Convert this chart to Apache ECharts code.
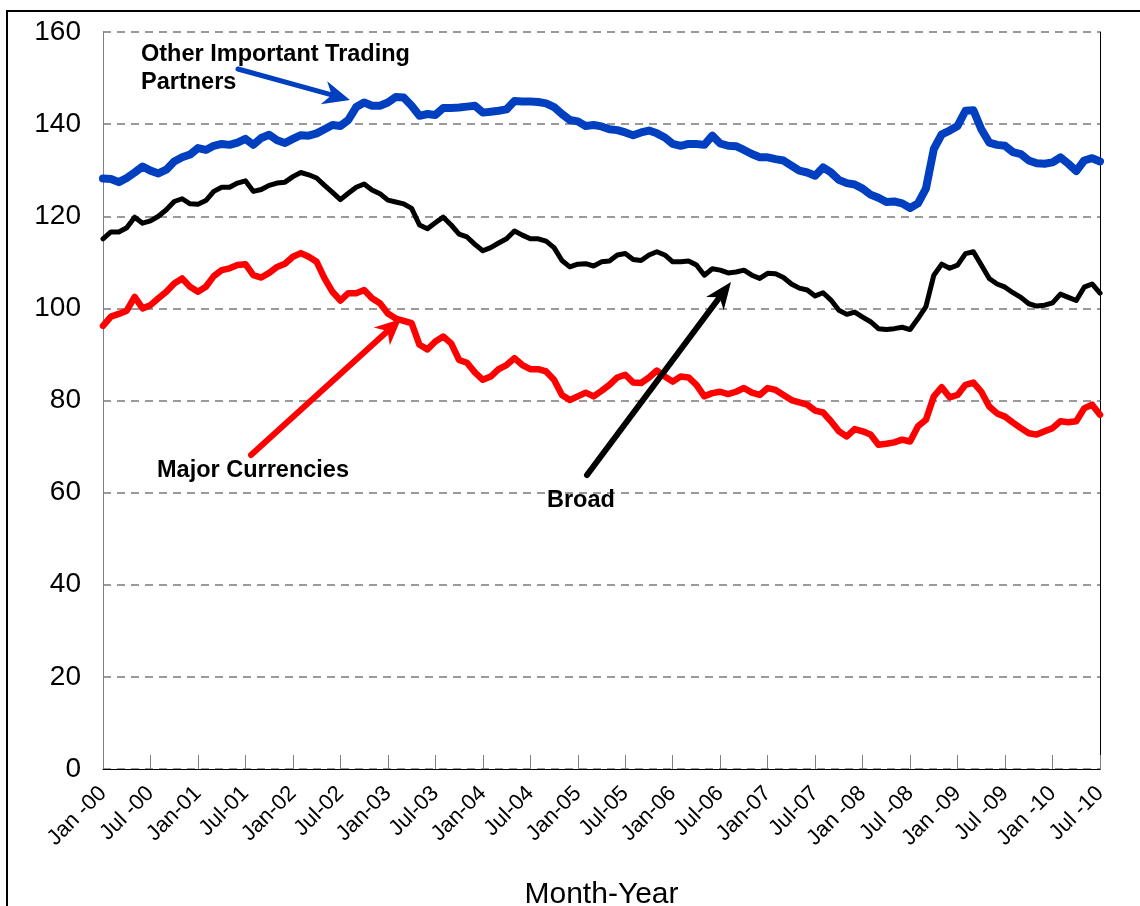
<!DOCTYPE html>
<html>
<head>
<meta charset="utf-8">
<script src="https://cdn.jsdelivr.net/npm/echarts@6/dist/echarts.min.js"></script>
<style>
html,body{margin:0;padding:0;background:#fff;overflow:hidden;}
#chart{width:1140px;height:906px;}
</style>
</head>
<body>
<div id="chart"></div>
<script>
// Tick labels shown every 6 months
const tickLabels = ['Jan -00','Jul -00','Jan-01','Jul-01','Jan-02','Jul-02','Jan-03','Jul-03','Jan-04','Jul-04','Jan-05','Jul-05','Jan-06','Jul-06','Jan-07','Jul-07','Jan -08','Jul -08','Jan -09','Jul -09','Jan -10','Jul -10'];
const monthNames = ['Jan','Feb','Mar','Apr','May','Jun','Jul','Aug','Sep','Oct','Nov','Dec'];
const years = ['00','01','02','03','04','05','06','07','08','09','10'];

// Other Important Trading Partners (monthly, Jan 2000 - Jul 2010)
const otherPartners = [
128.2,128.1,127.4,128.3,129.5,130.8,129.9,129.3,130.1,131.9,132.8,133.4,
134.8,134.4,135.3,135.7,135.5,136.0,136.8,135.5,137.0,137.7,136.5,135.9,
136.8,137.6,137.5,138.0,138.9,139.8,139.6,140.9,143.7,144.7,144.0,144.0,
144.7,145.9,145.8,144.0,141.8,142.2,142.0,143.5,143.5,143.6,143.8,144.0,
142.5,142.7,142.9,143.2,145.0,144.9,144.9,144.8,144.5,143.7,142.2,140.9,
140.6,139.6,139.8,139.5,138.9,138.7,138.2,137.6,138.2,138.6,138.0,137.1,
135.7,135.3,135.7,135.7,135.5,137.5,135.8,135.3,135.2,134.4,133.5,132.8,
132.8,132.4,132.1,131.0,129.9,129.5,128.8,130.6,129.5,127.9,127.2,126.9,
126.0,124.7,124.0,123.1,123.2,122.8,121.8,122.8,126.0,134.6,137.8,138.6,
139.6,142.9,143.0,138.9,136.0,135.5,135.3,133.9,133.5,132.1,131.5,131.4,
131.7,132.8,131.4,129.8,132.1,132.6,131.9];

// Broad
const broad = [
115.1,116.6,116.6,117.5,119.8,118.5,119.0,120.0,121.4,123.2,123.8,122.7,
122.6,123.4,125.4,126.3,126.3,127.2,127.7,125.4,125.8,126.7,127.2,127.4,
128.6,129.5,129.0,128.3,126.7,125.2,123.6,125.0,126.3,127.0,125.7,124.9,
123.5,123.1,122.7,121.7,118.1,117.3,118.6,119.8,118.1,116.1,115.5,113.9,
112.5,113.2,114.2,115.1,116.8,115.9,115.1,115.1,114.6,113.2,110.4,109.0,
109.6,109.7,109.2,110.1,110.3,111.6,111.9,110.6,110.4,111.6,112.3,111.6,
110.1,110.1,110.3,109.4,107.2,108.6,108.3,107.7,107.9,108.3,107.2,106.5,
107.6,107.5,106.7,105.3,104.4,104.0,102.7,103.4,101.8,99.6,98.7,99.2,
98.1,97.1,95.6,95.4,95.6,95.9,95.4,97.8,100.4,107.2,109.6,108.7,
109.4,111.9,112.3,109.4,106.5,105.3,104.6,103.4,102.4,101.0,100.5,100.7,
101.2,103.1,102.4,101.7,104.6,105.3,103.3];

// Major Currencies
const majorCurrencies = [
96.2,98.2,98.8,99.5,102.5,100.0,100.7,102.2,103.6,105.4,106.5,104.7,
103.6,104.7,107.0,108.3,108.7,109.4,109.6,107.2,106.7,107.7,109.0,109.7,
111.2,112.0,111.2,110.1,106.5,103.6,101.7,103.3,103.3,104.0,102.2,101.1,
98.9,97.8,97.3,96.8,92.1,91.1,92.8,93.9,92.4,88.8,88.2,86.1,
84.5,85.2,86.8,87.7,89.2,87.7,86.8,86.8,86.3,84.5,81.2,80.1,
80.9,81.7,80.9,82.1,83.4,85.0,85.6,83.9,83.8,85.0,86.5,85.2,
84.1,85.2,85.0,83.4,80.9,81.6,81.9,81.4,81.9,82.7,81.7,81.2,
82.7,82.3,81.2,80.1,79.6,79.1,77.8,77.4,75.5,73.3,72.2,73.8,
73.3,72.6,70.4,70.6,70.9,71.5,71.1,74.4,75.8,80.9,82.9,80.7,
81.2,83.4,83.9,81.9,78.7,77.2,76.5,75.2,74.0,72.9,72.6,73.3,
74.0,75.5,75.3,75.5,78.3,79.1,76.9];

const categories = [];
for (let i = 0; i < otherPartners.length; i++) {
  categories.push(monthNames[i % 12] + '-' + years[Math.floor(i / 12)]);
}

const FONT = '"Liberation Sans", Arial, Helvetica, sans-serif';

function arrow(sx, sy, tx, ty, color, lw, L, W, n) {
  const dx = tx - sx, dy = ty - sy, len = Math.hypot(dx, dy);
  const ux = dx / len, uy = dy / len, px = -uy, py = ux;
  const bx = tx - L * ux, by = ty - L * uy;
  const nx = tx - (L - n) * ux, ny = ty - (L - n) * uy;
  return [
    {type: 'line', z: 100, shape: {x1: sx, y1: sy, x2: nx, y2: ny},
     style: {stroke: color, lineWidth: lw, lineCap: 'round'}},
    {type: 'polygon', z: 100, shape: {points: [[tx, ty], [bx + W * px, by + W * py], [nx, ny], [bx - W * px, by - W * py]]},
     style: {fill: color}}
  ];
}

function label(text, x, y) {
  return {type: 'text', z: 100, x: x, y: y,
    style: {text: text, fontSize: 23.5, fontWeight: 'bold', fontFamily: FONT, fill: '#000', align: 'left', verticalAlign: 'middle'}};
}

const chart = echarts.init(document.getElementById('chart'), null, {renderer: 'canvas'});
const showTick = (idx) => idx % 6 === 0;

chart.setOption({
  animation: false,
  backgroundColor: '#fff',
  grid: {left: 103, top: 32, right: 40, bottom: 137, containLabel: false, outerBoundsMode: 'none'},
  xAxis: {
    type: 'category',
    data: categories,
    boundaryGap: false,
    name: 'Month-Year',
    nameLocation: 'middle',
    nameGap: 111,
    nameTextStyle: {fontSize: 30, fontFamily: FONT, color: '#000'},
    axisLine: {show: true, lineStyle: {color: '#000', width: 1}},
    axisTick: {show: true, inside: true, length: 14, interval: (i) => showTick(i), lineStyle: {color: '#808080', width: 1}},
    axisLabel: {
      interval: (i) => showTick(i),
      rotate: 45,
      margin: 21,
      fontSize: 22,
      fontFamily: FONT,
      color: '#000',
      formatter: (v, i) => tickLabels[i / 6]
    },
    splitLine: {show: false}
  },
  yAxis: [{
    type: 'value',
    min: 0, max: 160, interval: 20,
    axisLine: {show: true, lineStyle: {color: '#808080', width: 1}},
    axisTick: {show: false},
    axisLabel: {fontSize: 28, fontFamily: FONT, color: '#000', margin: 22},
    splitLine: {show: true, lineStyle: {color: '#7a7a7a', width: 1.5, type: [8, 6]}}
  }, {
    type: 'value', position: 'right',
    min: 0, max: 160, interval: 20,
    axisLine: {show: true, lineStyle: {color: '#000', width: 1}},
    axisTick: {show: false}, axisLabel: {show: false}, splitLine: {show: false}
  }],
  series: [
    {name: 'Other Important Trading Partners', type: 'line', data: otherPartners, showSymbol: false, z: 3,
     lineStyle: {color: '#0040C0', width: 8, cap: 'round', join: 'round'}},
    {name: 'Broad', type: 'line', data: broad, showSymbol: false, z: 4,
     lineStyle: {color: '#000000', width: 5, cap: 'round', join: 'round'}},
    {name: 'Major Currencies', type: 'line', data: majorCurrencies, showSymbol: false, z: 5,
     lineStyle: {color: '#FF0000', width: 6.5, cap: 'round', join: 'round'}}
  ],
  graphic: [
    {type: 'rect', z: 100, shape: {x: 7, y: 11, width: 1200, height: 1000}, style: {fill: 'none', stroke: '#000', lineWidth: 2}},
    label('Other Important Trading', 141, 55),
    label('Partners', 141, 83),
    label('Major Currencies', 157, 471),
    label('Broad', 547, 501),
    ...arrow(238, 69, 350, 100, '#0040C0', 5, 27, 12, 8),
    ...arrow(251, 455, 401, 319, '#FF0000', 6, 26, 12, 8),
    ...arrow(587, 475, 731, 282, '#000000', 6, 27, 11, 8)
  ]
});
</script>
</body>
</html>
